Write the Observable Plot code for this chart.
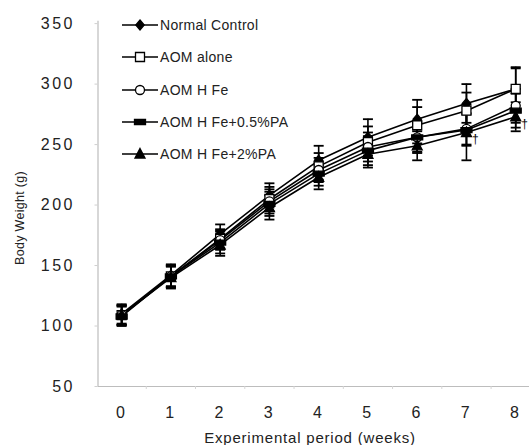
<!DOCTYPE html>
<html>
<head>
<meta charset="utf-8">
<script src="https://cdn.jsdelivr.net/npm/d3@7"></script>
<script src="https://cdn.jsdelivr.net/npm/@observablehq/plot@0.6"></script>
<style>
  html, body { margin: 0; padding: 0; background: #fff; }
  #wrap { position: relative; width: 529px; height: 445px; overflow: hidden; font-family: "Liberation Sans", Arial, sans-serif; color: #222; }
  #wrap > svg { position: absolute; left: 0; top: 0; }
  .legend-item { position: absolute; display: flex; align-items: center; white-space: nowrap; font-size: 14px; letter-spacing: 0.3px; color: #222; }
  .legend-item svg { display: block; margin-right: 2px; }
  .ytitle { position: absolute; left: 20px; top: 218px; transform: translate(-50%, -50%) rotate(-90deg); font-size: 12.5px; letter-spacing: 0.3px; white-space: nowrap; color: #222; }
  .xtitle { position: absolute; left: 310px; top: 437px; transform: translate(-50%, -50%); font-size: 15px; letter-spacing: 0.8px; white-space: nowrap; color: #222; }
</style>
</head>
<body>
<div id="wrap"></div>
<script>
// ---- data ----
const weeks = [0, 1, 2, 3, 4, 5, 6, 7, 8];
const yTicks = [50, 100, 150, 200, 250, 300, 350];
const seriesNames = ["Normal Control", "AOM alone", "AOM H Fe", "AOM H Fe+0.5%PA", "AOM H Fe+2%PA"];

const normalControl   = [110, 142, 176, 208, 237, 256, 271, 284, 296];
const aomAlone        = [109, 141, 172, 205, 232, 252, 266, 278, 296];
const aomHFe          = [109, 141, 171, 203, 229, 248, 256, 263, 282];
const aomHFe05PA      = [108, 141, 169, 201, 226, 245, 256, 262, 278];
const aomHFe2PA       = [109, 140, 167, 198, 223, 242, 249, 260, 273];

const normalControlSD = [8, 9, 8, 10, 12, 15, 16, 16, 18];
const aomAloneSD      = [8, 9, 8, 10, 11, 13, 15, 15, 17];
const aomHFeSD        = [8, 9, 8, 10, 10, 12, 13, 13, 14];
const aomHFe05PASD    = [8, 9, 9, 10, 10, 12, 12, 13, 14];
const aomHFe2PASD     = [8, 9, 9, 10, 10, 11, 12, 23, 12];

const daggerWeeks = [7, 8];
const daggerLabel = "†";

const xDomain = [-0.48, 8.28];
const yDomain = [50, 352];

// ---- marker symbols ----
const symDiamond = { draw(c) { c.moveTo(0, -5); c.lineTo(4.2, 0); c.lineTo(0, 5); c.lineTo(-4.2, 0); c.closePath(); } };
const symSquare  = { draw(c) { c.rect(-4.5, -4.5, 9, 9); } };
const symCircle  = { draw(c) { c.moveTo(4.5, 0); c.arc(0, 0, 4.5, 0, 2 * Math.PI); c.closePath(); } };
const symBar     = { draw(c) { c.rect(-5.5, -2.5, 11, 5); } };
const symTri     = { draw(c) { c.moveTo(0, -5.5); c.lineTo(5, 4); c.lineTo(-5, 4); c.closePath(); } };
const symCap     = { draw(c) { c.moveTo(-5, 0); c.lineTo(5, 0); } };

const means = [normalControl, aomAlone, aomHFe, aomHFe05PA, aomHFe2PA];
const sds = [normalControlSD, aomAloneSD, aomHFeSD, aomHFe05PASD, aomHFe2PASD];
const styles = [
  { symbol: symDiamond, fill: "black" },
  { symbol: symSquare, fill: "white" },
  { symbol: symCircle, fill: "white" },
  { symbol: symBar, fill: "black" },
  { symbol: symTri, fill: "black" }
];

const series = seriesNames.map((name, i) => ({
  name,
  style: styles[i],
  rows: weeks.map((w, j) => ({ week: w, value: means[i][j], lo: means[i][j] - sds[i][j], hi: means[i][j] + sds[i][j] }))
}));

const daggerRows = series[4].rows.filter(r => daggerWeeks.includes(r.week));

const marks = [
  Plot.ruleY([yDomain[0]], { stroke: "#bdbdbd", strokeWidth: 1.2 }),
  Plot.ruleX([xDomain[0]], { stroke: "#bdbdbd", strokeWidth: 1.2 }),
  Plot.axisY({ ticks: yTicks, tickSize: 3, stroke: "#cfcfcf", tickFormat: () => "", label: null }),
  Plot.axisY({ ticks: yTicks, tickSize: 0, tickPadding: 23, fontSize: 16, fill: "#222", label: null }),
  Plot.axisX({ ticks: weeks.map(w => w + 0.5), tickSize: 3, stroke: "#d5d5d5", tickFormat: () => "", label: null }),
  Plot.axisX({ ticks: weeks, tickSize: 0, tickPadding: 20, fontSize: 16, fill: "#222", label: null })
];

for (const s of series) {
  marks.push(Plot.ruleX(s.rows, { x: "week", y1: "lo", y2: "hi", stroke: "black", strokeWidth: 1.6 }));
  marks.push(Plot.dot(s.rows, { x: "week", y: "hi", symbol: symCap, stroke: "black", strokeWidth: 1.8 }));
  marks.push(Plot.dot(s.rows, { x: "week", y: "lo", symbol: symCap, stroke: "black", strokeWidth: 1.8 }));
}
for (const s of series) {
  marks.push(Plot.line(s.rows, { x: "week", y: "value", stroke: "black", strokeWidth: 1.6 }));
}
for (const s of series) {
  marks.push(Plot.dot(s.rows, { x: "week", y: "value", symbol: s.style.symbol, fill: s.style.fill, stroke: "black", strokeWidth: 1.3 }));
}
marks.push(Plot.text(daggerRows, { x: "week", y: "value", text: () => daggerLabel, dx: 9, dy: 7, fontSize: 12, fill: "black" }));

const chart = Plot.plot({
  width: 529,
  height: 445,
  marginLeft: 97.5,
  marginRight: 0,
  marginTop: 20.7,
  marginBottom: 59,
  style: { fontFamily: "Liberation Sans, Arial, sans-serif", background: "white", color: "#222", letterSpacing: "2.5px" },
  x: { domain: xDomain, axis: null },
  y: { domain: yDomain, axis: null },
  marks
});

d3.select(chart).selectAll("text").filter(function () { return this.textContent === daggerLabel; }).style("letter-spacing", "0px");

const wrap = document.getElementById("wrap");
wrap.appendChild(chart);

// ---- legend overlay ----
const legendRowY = 25, legendStep = 32.3;
series.forEach((s, i) => {
  const item = document.createElement("div");
  item.className = "legend-item";
  item.style.left = "122px";
  item.style.top = (legendRowY + i * legendStep - 9) + "px";
  item.style.height = "18px";
  const path = d3.symbol().type(s.style.symbol)();
  item.innerHTML = `<svg width="36" height="18" viewBox="0 0 36 18">
    <line x1="0" y1="9" x2="36" y2="9" stroke="black" stroke-width="1.6"/>
    <path d="${path}" transform="translate(18,9)" fill="${s.style.fill}" stroke="black" stroke-width="1.3"/>
  </svg><span>${s.name}</span>`;
  wrap.appendChild(item);
});

const yt = document.createElement("div");
yt.className = "ytitle";
yt.textContent = "Body Weight (g)";
wrap.appendChild(yt);

const xt = document.createElement("div");
xt.className = "xtitle";
xt.textContent = "Experimental period (weeks)";
wrap.appendChild(xt);
</script>
</body>
</html>
